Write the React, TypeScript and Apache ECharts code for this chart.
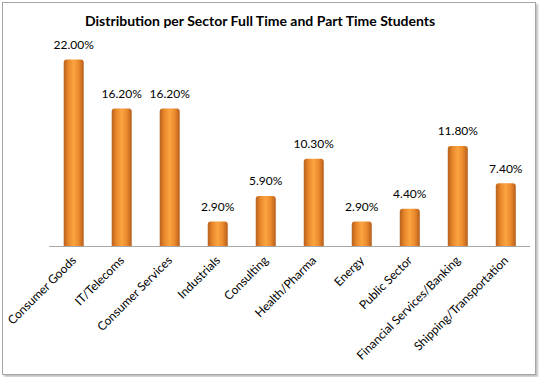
import React, { useEffect, useRef } from "react";
import * as echarts from "echarts";

const title = "Distribution per Sector Full Time and Part Time Students";
const categories = [
  "Consumer Goods",
  "IT/Telecoms",
  "Consumer Services",
  "Industrials",
  "Consulting",
  "Health/Pharma",
  "Energy",
  "Public Sector",
  "Financial Services/Banking",
  "Shipping/Transportation",
];
const values = [22.0, 16.2, 16.2, 2.9, 5.9, 10.3, 2.9, 4.4, 11.8, 7.4];

export default function App() {
  const ref = useRef<HTMLDivElement>(null);
  useEffect(() => {
    if (!ref.current) return;
    const chart = echarts.init(ref.current, null, { renderer: "svg" });
    const font = "Lato, 'Open Sans', sans-serif";
    chart.setOption({
      animation: false,
      backgroundColor: "#ffffff",
      title: {
        text: title,
        left: 77,
        top: 5,
        textStyle: { fontFamily: font, fontSize: 14, fontWeight: "bold", color: "#000" },
      },
      grid: { left: 44.6, right: 5.2, top: 31, bottom: 128, containLabel: false },
      xAxis: {
        type: "category",
        data: categories,
        axisLine: { lineStyle: { color: "#a6a6a6", width: 1 } },
        axisTick: { show: false },
        axisLabel: {
          rotate: 45,
          interval: 0,
          margin: 12,
          fontFamily: font,
          fontSize: 12,
          color: "#000",
        },
      },
      yAxis: {
        type: "value",
        min: 0,
        max: 25,
        show: false,
        splitLine: { show: false },
      },
      series: [
        {
          type: "bar",
          data: values,
          barWidth: 20,
          itemStyle: {
            color: new echarts.graphic.LinearGradient(0, 0, 1, 0, [
              { offset: 0, color: "#b9601c" },
              { offset: 0.25, color: "#ea8a2c" },
              { offset: 0.5, color: "#fba440" },
              { offset: 0.75, color: "#ea8a2c" },
              { offset: 1, color: "#b65d1b" },
            ]),
            borderRadius: [3, 3, 0, 0],
          },
          label: {
            show: true,
            position: "top",
            distance: 9,
            formatter: (p: any) => p.value.toFixed(2) + "%",
            fontFamily: font,
            fontSize: 12,
            color: "#000",
          },
        },
      ],
    });
    return () => chart.dispose();
  }, []);
  return (
    <div
      style={{
        position: "fixed",
        left: 0,
        top: 0,
        width: 539,
        height: 377,
        background: "#fff",
      }}
    >
      <div
        style={{
          position: "absolute",
          left: 2,
          top: 2,
          width: 532,
          height: 371,
          border: "1px solid #a6a6a6",
          boxShadow: "2px 2px 2px rgba(0,0,0,0.25)",
          boxSizing: "content-box",
        }}
      >
        <div ref={ref} style={{ width: 532, height: 371 }} />
      </div>
    </div>
  );
}
